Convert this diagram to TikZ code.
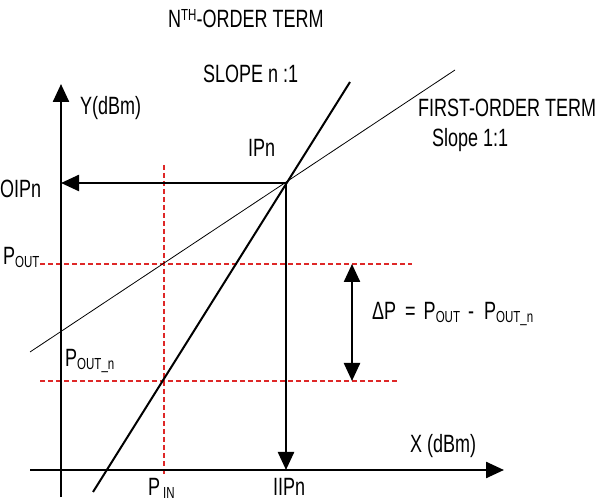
\documentclass[tikz,border=0pt]{standalone}
\usepackage{fontspec}
\setmainfont[FakeStretch=0.72]{Liberation Sans}
\usetikzlibrary{arrows.meta}
\definecolor{guidered}{RGB}{222,40,40}
\newcommand{\lowsub}[1]{\raisebox{-2.5pt}{\fontsize{16}{16}\selectfont #1}}
\newcommand{\highsup}[1]{\raisebox{7.5pt}{\fontsize{16}{16}\selectfont #1}}
\begin{document}
\begin{tikzpicture}[x=1pt,y=-1pt,
  lbl/.style={anchor=base west, inner sep=0pt, font=\fontsize{25}{29}\selectfont},
  axis/.style={line width=2.4pt},
  tipend/.style={-{Triangle[length=18pt,width=16pt]}},
  tipboth/.style={{Triangle[length=18pt,width=16pt]}-{Triangle[length=18pt,width=16pt]}},
  guide/.style={guidered, line width=1.3pt, dash pattern=on 5pt off 3pt},
  steepline/.style={line width=2pt},
  thinline/.style={line width=0.8pt},
]
\useasboundingbox (0,0) rectangle (600,502);
% key points
\coordinate (yb) at (61,497);
\coordinate (yt) at (61,84);
\coordinate (xl) at (30,470);
\coordinate (xr) at (504,470);
\coordinate (ip) at (286,183);
\coordinate (oip) at (61,183);
\coordinate (iip) at (286,470);
\coordinate (ns) at (350,82);
\coordinate (ne) at (93,492);
\coordinate (fs) at (455,70);
\coordinate (fe) at (30,352);
\coordinate (pol) at (40,264);
\coordinate (por) at (412,264);
\coordinate (pnl) at (40,381);
\coordinate (pnr) at (398,381);
\coordinate (pit) at (164,165);
\coordinate (pib) at (164,474);
\coordinate (dpt) at (352,264);
\coordinate (dpb) at (352,381);
% guide lines
\draw[guide] (pol) -- (por);
\draw[guide] (pnl) -- (pnr);
\draw[guide] (pit) -- (pib);
% response lines
\draw[thinline] (fe) -- (fs);
\draw[steepline] (ne) -- (ns);
% axes
\draw[axis, tipend] (yb) -- (yt);
\draw[axis, tipend] (xl) -- (xr);
\draw[axis, tipend] (ip) -- (oip);
\draw[axis, tipend] (ip) -- (iip);
\draw[axis, tipboth] (dpt) -- (dpb);
% labels
\node[lbl] (nth) at (168,28) {N\highsup{TH}-ORDER TERM};
\node[lbl] (slopen) at (203,83) {SLOPE n :1};
\node[lbl] (ylab) at (80,115) {Y(dBm)};
\node[lbl] (ipn) at (248,157) {IPn};
\node[lbl] (first) at (418,117) {FIRST-ORDER TERM};
\node[lbl] (slope1) at (432,147) {Slope 1:1};
\node[lbl] (oipn) at (0,198) {OIPn};
\node[lbl] (pout) at (3,265) {P\lowsub{OUT}};
\node[lbl] (poutn) at (65,367) {P\lowsub{OUT\_n}};
\node[lbl] (dp) at (372,320) {ΔP\hspace{9pt}=\hspace{8pt}P\lowsub{OUT}\hspace{8pt}-\hspace{10pt}P\lowsub{OUT\_n}};
\node[lbl] (xlab) at (410,453) {X (dBm)};
\node[lbl] (pin) at (148,496) {P\hspace{3pt}\lowsub{IN}};
\node[lbl] (iipn) at (273,496) {IIPn};
\end{tikzpicture}
\end{document}
